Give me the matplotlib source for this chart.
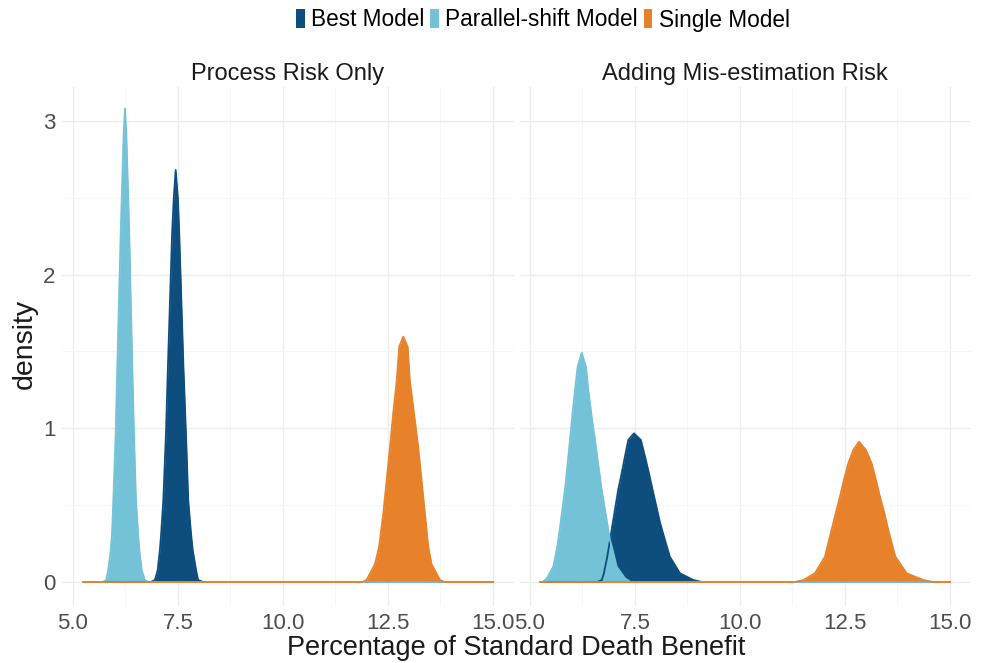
import matplotlib
matplotlib.use("Agg")
import matplotlib.pyplot as plt
from matplotlib.patches import Patch

plt.rcParams['font.family'] = ['Liberation Sans', 'DejaVu Sans']

# values (x = % of standard death benefit, y = density)
models = ['Best Model', 'Parallel-shift Model', 'Single Model']
colours = ['#0d4e7f', '#73c2d7', '#e8822a']
facets = ['Process Risk Only', 'Adding Mis-estimation Risk']

# Process Risk Only
p1_best_x = [5.25, 6.85, 6.95, 7.017, 7.07, 7.10, 7.15, 7.214, 7.26, 7.36, 7.397, 7.445,
             7.50, 7.53, 7.63, 7.69, 7.745, 7.81, 7.85, 7.93, 7.98, 8.10, 15.0]
p1_best_y = [0, 0, 0.013, 0.078, 0.21, 0.317, 0.53, 0.967, 1.40, 2.27, 2.485, 2.68,
             2.485, 2.27, 1.40, 0.967, 0.53, 0.317, 0.21, 0.078, 0.013, 0, 0]
p1_par_x = [5.25, 5.70, 5.79, 5.84, 5.90, 5.93, 5.96, 6.017, 6.055, 6.136, 6.207, 6.238,
            6.27, 6.34, 6.412, 6.452, 6.50, 6.55, 6.58, 6.636, 6.71, 6.80, 15.0]
p1_par_y = [0, 0, 0.013, 0.078, 0.21, 0.317, 0.53, 0.967, 1.40, 2.27, 2.92, 3.08,
            2.92, 2.27, 1.40, 0.967, 0.53, 0.317, 0.21, 0.078, 0.013, 0, 0]
p1_sing_x = [5.25, 11.90, 11.99, 12.19, 12.29, 12.39, 12.55, 12.626, 12.71, 12.77, 12.864,
             12.97, 13.02, 13.12, 13.22, 13.38, 13.46, 13.54, 13.74, 13.85, 15.0]
p1_sing_y = [0, 0, 0.013, 0.115, 0.23, 0.447, 0.88, 1.098, 1.314, 1.53, 1.596,
             1.53, 1.314, 1.098, 0.88, 0.447, 0.23, 0.115, 0.013, 0, 0]

# Adding Mis-estimation Risk
p2_best_x = [5.25, 6.60, 6.71, 6.76, 6.84, 6.905, 6.97, 7.10, 7.183, 7.26, 7.34, 7.476,
             7.64, 7.74, 7.833, 7.92, 8.10, 8.214, 8.33, 8.57, 8.89, 9.10, 15.0]
p2_best_y = [0, 0, 0.013, 0.057, 0.165, 0.273, 0.382, 0.599, 0.707, 0.815, 0.924, 0.967,
             0.924, 0.815, 0.707, 0.599, 0.382, 0.273, 0.165, 0.057, 0.013, 0, 0]
p2_par_x = [5.25, 5.30, 5.40, 5.555, 5.635, 5.674, 5.833, 5.952, 5.99, 6.071, 6.135, 6.231,
            6.333, 6.388, 6.49, 6.548, 6.707, 6.905, 6.97, 7.064, 7.262, 7.40, 15.0]
p2_par_y = [0, 0, 0.024, 0.10, 0.208, 0.273, 0.599, 0.924, 1.032, 1.249, 1.40, 1.492,
            1.40, 1.249, 1.032, 0.924, 0.599, 0.273, 0.208, 0.10, 0.024, 0, 0]
p2_sing_x = [5.25, 11.30, 11.51, 11.786, 12.024, 12.18, 12.28, 12.38, 12.476, 12.58, 12.70,
             12.833, 13.00, 13.135, 13.238, 13.333, 13.44, 13.532, 13.70, 13.968, 14.365,
             14.60, 15.0]
p2_sing_y = [0, 0, 0.013, 0.057, 0.165, 0.338, 0.447, 0.555, 0.664, 0.772, 0.859,
             0.913, 0.859, 0.772, 0.664, 0.555, 0.447, 0.338, 0.165, 0.057, 0.013,
             0, 0]

x_ticks = [5.0, 7.5, 10.0, 12.5, 15.0]
x_minor = [6.25, 8.75, 11.25, 13.75]
y_ticks = [0, 1, 2, 3]
y_minor = [0.5, 1.5, 2.5]

panels = [
    [(p1_best_x, p1_best_y), (p1_par_x, p1_par_y), (p1_sing_x, p1_sing_y)],
    [(p2_best_x, p2_best_y), (p2_par_x, p2_par_y), (p2_sing_x, p2_sing_y)],
]

W, H = 985, 663
fig = plt.figure(figsize=(W / 100, H / 100), dpi=100)

lefts = [62.5, 519.5]
pw = 451.0
top, bottom = 87.0, 605.7

for i, (left, curves) in enumerate(zip(lefts, panels)):
    ax = fig.add_axes([left / W, (H - bottom) / H, pw / W, (bottom - top) / H])
    for spine in ax.spines.values():
        spine.set_visible(False)
    ax.set_xlim(4.75, 15.49)
    ax.set_ylim(-0.154, 3.22)
    ax.set_xticks(x_ticks)
    ax.set_xticklabels([f'{t:.1f}' for t in x_ticks])
    ax.set_xticks(x_minor, minor=True)
    ax.set_yticks(y_ticks)
    ax.set_yticks(y_minor, minor=True)
    ax.grid(which='major', color='#ededed', lw=1.0)
    ax.grid(which='minor', color='#f5f5f5', lw=0.6)
    ax.set_axisbelow(True)
    ax.tick_params(which='both', length=0, labelsize=16, labelcolor='#4d4d4d', pad=5)
    if i == 1:
        ax.tick_params(axis='y', labelleft=False)

    for (x, y), c in zip(curves, colours):
        ax.fill_between(x, y, 0, color=c, lw=0)
        ax.plot(x, y, color=c, lw=1.3, solid_joinstyle='round')

    ax.set_title(facets[i], fontsize=17, color='#1a1a1a', pad=4.8)

fig.text(516.5 / W, 1 - 648 / H, 'Percentage of Standard Death Benefit',
         ha='center', va='center', fontsize=19.5, color='#1a1a1a')
fig.text(25 / W, 1 - 344 / H, 'density', rotation=90,
         ha='center', va='center', fontsize=20.5, color='#1a1a1a')

handles = [Patch(facecolor=c, edgecolor='none') for c in colours]
fig.legend(handles, models, loc='center', bbox_to_anchor=(543 / W, 1 - 20 / H),
           ncol=3, frameon=False, fontsize=16.3, handlelength=0.36, handleheight=0.95,
           handletextpad=0.3, columnspacing=0.25, borderaxespad=0, borderpad=0)

fig.savefig('out.png', dpi=100, facecolor='white')
